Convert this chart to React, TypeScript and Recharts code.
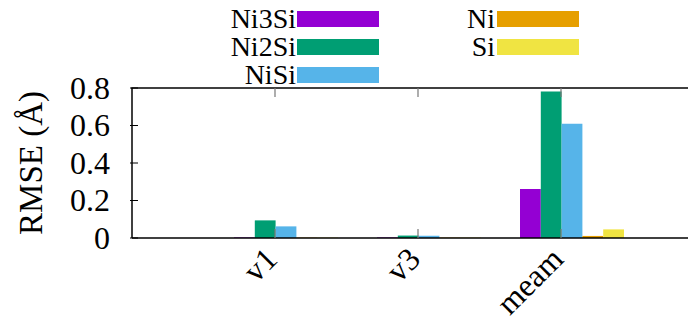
import React from 'react';
import { BarChart, Bar, XAxis, YAxis } from 'recharts';

const categories = ['v1', 'v3', 'meam'];
const positions = [1, 2, 3];
const seriesNames = ['Ni3Si', 'Ni2Si', 'NiSi', 'Ni', 'Si'];
const seriesColors = ['#9400D3', '#009E73', '#56B4E9', '#E69F00', '#F0E442'];
const ni3si = [0.003, 0.003, 0.261];
const ni2si = [0.094, 0.013, 0.782];
const nisi = [0.062, 0.012, 0.61];
const ni = [0.002, 0.002, 0.011];
const si = [0.002, 0.002, 0.046];
const yTicks = [0, 0.2, 0.4, 0.6, 0.8];
const xDomain = [0, 4];
const yLabel = 'RMSE (Å)';

const seriesValues = [ni3si, ni2si, nisi, ni, si];
const data = categories.map((c, i) => {
  const row: any = { cat: c, pos: positions[i] };
  seriesNames.forEach((n, k) => { row[n] = seriesValues[k][i]; });
  return row;
});

const FONT = "'Liberation Serif', 'Times New Roman', serif";
const TICK_FS = 32;
const PLOT_TOP = 88;
const PLOT_LEFT = 132;
const PLOT_H = 150;
const PLOT_W = 572;
const txtStyle = (fs: number) => ({ fontFamily: FONT, fontSize: fs, fill: '#000' });

const YTickLeft = (props: any) => {
  const { x, y, payload } = props;
  const v = payload.value;
  const label = v === 0 ? '0' : v.toFixed(1);
  return (
    <g>
      <line x1={x} x2={x + 8} y1={y} y2={y} stroke="#000" strokeWidth={1} />
      <text x={x - 20} y={y} dy="0.34em" textAnchor="end" style={txtStyle(TICK_FS)}>{label}</text>
    </g>
  );
};

const YTickRight = (props: any) => {
  const { x, y } = props;
  return <line x1={x} x2={x - 8} y1={y} y2={y} stroke="#000" strokeWidth={1} />;
};

const XTickBottom = (props: any) => {
  const { x, y, payload } = props;
  const idx = positions.indexOf(payload.value);
  const label = idx >= 0 ? categories[idx] : '';
  const tx = x + 4;
  const ty = y + 21;
  const base = y - 2;
  return (
    <g>
      <line x1={x} x2={x} y1={base} y2={base - 9} stroke="#777" strokeWidth={1.2} />
      <text x={tx} y={ty} textAnchor="end" transform={`rotate(-45, ${tx}, ${ty})`} style={txtStyle(TICK_FS)}>{label}</text>
    </g>
  );
};

const YAxisLabel = (props: any) => {
  const vb = props.viewBox || { x: 0, y: PLOT_TOP, width: PLOT_LEFT, height: PLOT_H };
  const cx = 42;
  const cy = vb.y + vb.height / 2;
  return (
    <text x={cx} y={cy} textAnchor="middle" transform={`rotate(-90, ${cx}, ${cy})`} style={txtStyle(33)}>{yLabel}</text>
  );
};

const Overlay = () => {
  const rows = [
    { col: 0, row: 0, k: 0 },
    { col: 0, row: 1, k: 1 },
    { col: 0, row: 2, k: 2 },
    { col: 1, row: 0, k: 3 },
    { col: 1, row: 1, k: 4 },
  ];
  const colTextRight = [296, 495];
  const colSwatch = [297, 497];
  const swW = 82;
  const xOf = (p: number) => PLOT_LEFT + ((p - xDomain[0]) / (xDomain[1] - xDomain[0])) * PLOT_W;
  return (
    <svg width={696} height={110} style={{ position: 'absolute', left: 0, top: 0, pointerEvents: 'none' }}>
      {rows.map((r) => {
        const cy = 19 + r.row * 28;
        return (
          <g key={r.k}>
            <text x={colTextRight[r.col]} y={cy} dy="0.33em" textAnchor="end" style={txtStyle(28)}>{seriesNames[r.k]}</text>
            <rect x={colSwatch[r.col]} y={cy - 8} width={swW} height={16} fill={seriesColors[r.k]} />
          </g>
        );
      })}
      <line x1={PLOT_LEFT - 0.75} x2={PLOT_LEFT + PLOT_W} y1={PLOT_TOP} y2={PLOT_TOP} stroke="#000" strokeWidth={1.5} />
      {positions.map((p) => (
        <line key={p} x1={xOf(p)} x2={xOf(p)} y1={PLOT_TOP} y2={PLOT_TOP + 9} stroke="#777" strokeWidth={1.2} />
      ))}
    </svg>
  );
};

export default function App() {
  return (
    <div style={{ width: 696, height: 325, overflow: 'hidden', position: 'relative', background: '#fff', margin: -8 }}>
      <BarChart
        width={PLOT_LEFT + PLOT_W + 24}
        height={325}
        data={data}
        margin={{ top: PLOT_TOP, right: 0, bottom: 0, left: 0 }}
        barGap={0}
        barSize={20.8}
      >
        <XAxis xAxisId="cat" dataKey="cat" type="category" hide height={0} padding={{ left: 82, right: 61 }} />
        <XAxis
          xAxisId="num"
          dataKey="pos"
          type="number"
          domain={xDomain}
          ticks={positions}
          allowDataOverflow
          height={87}
          tickSize={0}
          tickLine={false}
          tick={<XTickBottom />}
          axisLine={{ stroke: '#000', strokeWidth: 1.5 }}
          interval={0}
        />
        <YAxis
          yAxisId="left"
          domain={[0, 0.8]}
          ticks={yTicks}
          allowDataOverflow
          width={PLOT_LEFT}
          tickSize={0}
          tickLine={false}
          tick={<YTickLeft />}
          axisLine={{ stroke: '#000', strokeWidth: 1.5 }}
          interval={0}
          label={<YAxisLabel />}
        />
        <YAxis
          yAxisId="right"
          orientation="right"
          domain={[0, 0.8]}
          ticks={yTicks}
          allowDataOverflow
          width={24}
          tickSize={0}
          tickLine={false}
          tick={<YTickRight />}
          axisLine={{ stroke: '#000', strokeWidth: 1.5 }}
          interval={0}
        />
        {seriesNames.map((n, k) => (
          <Bar key={n} dataKey={n} xAxisId="cat" yAxisId="left" fill={seriesColors[k]} isAnimationActive={false} />
        ))}
      </BarChart>
      <Overlay />
    </div>
  );
}
